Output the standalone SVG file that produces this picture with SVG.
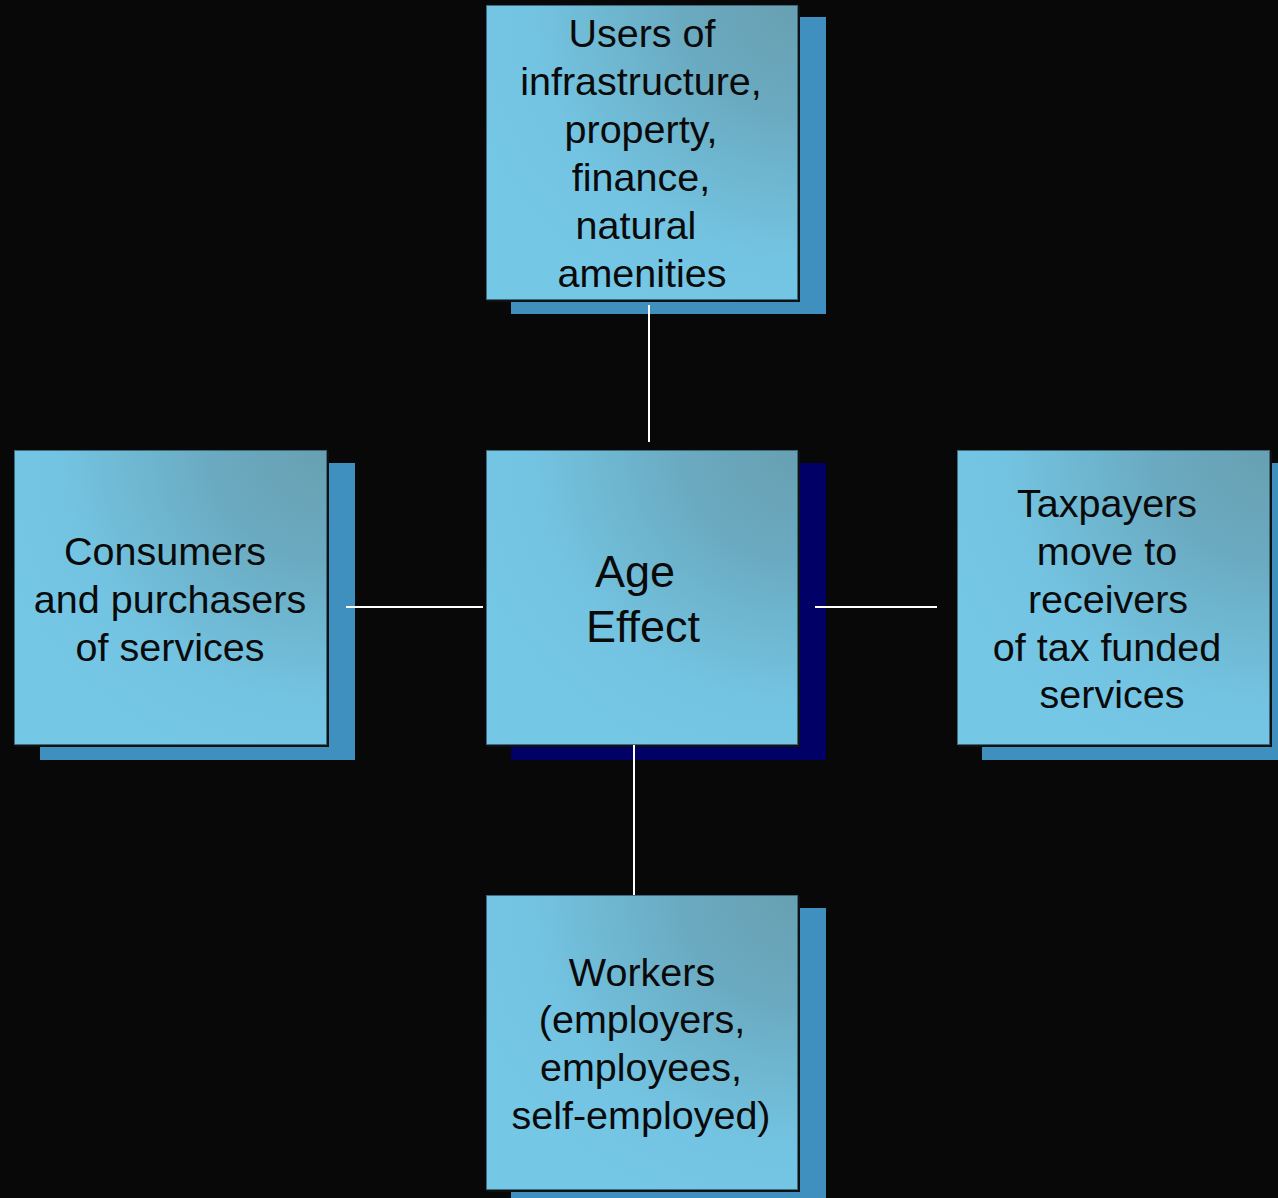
<svg xmlns="http://www.w3.org/2000/svg" width="1278" height="1198" viewBox="0 0 1278 1198">
<defs>
<radialGradient id="boxGrad" cx="1" cy="0" r="1.15" gradientUnits="objectBoundingBox">
<stop offset="0" stop-color="#68A0B2"/>
<stop offset="0.3" stop-color="#6AA9BF"/>
<stop offset="0.75" stop-color="#73C4E2"/>
<stop offset="1" stop-color="#74C7E5"/>
</radialGradient>
</defs>
<style>
.bg{fill:#080808}
.shadow{fill:#3F8FBF}
.shadow-dark{fill:#000066}
.box{fill:url(#boxGrad);stroke:#3C6A7E;stroke-width:1}
.edge{fill:none;stroke:#111111;stroke-width:2}
.conn{stroke:#FFFFFF;stroke-width:2;fill:none}
.t{font-family:"Liberation Sans",Arial,sans-serif;font-size:39.5px;fill:#0A0A0A;text-anchor:middle}
.tc{font-family:"Liberation Sans",Arial,sans-serif;font-size:45px;fill:#0A0A0A;text-anchor:middle}
</style>
<rect class="bg" x="0" y="0" width="1278" height="1198"/>

<g id="node-top">
<rect class="shadow" x="511" y="17" width="315" height="297"/>
<rect class="box" x="486.5" y="5.5" width="311" height="294"/>
<polyline class="edge" points="799,6 799,301 487,301"/>
<text class="t" x="642" y="47">Users of</text>
<text class="t" x="641" y="95">infrastructure,</text>
<text class="t" x="641" y="143">property,</text>
<text class="t" x="641" y="191">finance,</text>
<text class="t" x="636" y="239">natural</text>
<text class="t" x="642" y="287">amenities</text>
</g>

<g id="node-center">
<rect class="shadow-dark" x="511" y="463" width="315" height="297"/>
<rect class="box" x="486.5" y="450.5" width="311" height="294"/>
<polyline class="edge" points="799,451 799,746 487,746"/>
<text class="tc" x="635" y="587">Age</text>
<text class="tc" x="643" y="642">Effect</text>
</g>

<g id="node-left">
<rect class="shadow" x="40" y="463" width="315" height="297"/>
<rect class="box" x="14.5" y="450.5" width="312" height="294"/>
<polyline class="edge" points="328,451 328,746 15,746"/>
<text class="t" x="165" y="565">Consumers</text>
<text class="t" x="170" y="613">and purchasers</text>
<text class="t" x="170" y="661">of services</text>
</g>

<g id="node-right">
<rect class="shadow" x="982" y="463" width="300" height="297"/>
<rect class="box" x="957.5" y="450.5" width="312" height="294"/>
<polyline class="edge" points="1271,451 1271,746 958,746"/>
<text class="t" x="1107" y="517">Taxpayers</text>
<text class="t" x="1107" y="565">move to</text>
<text class="t" x="1108" y="613">receivers</text>
<text class="t" x="1107" y="661">of tax funded</text>
<text class="t" x="1112" y="708">services</text>
</g>

<g id="node-bottom">
<rect class="shadow" x="511" y="908" width="315" height="295"/>
<rect class="box" x="486.5" y="895.5" width="311" height="294"/>
<polyline class="edge" points="799,896 799,1191 487,1191"/>
<text class="t" x="642" y="986">Workers</text>
<text class="t" x="642" y="1033">(employers,</text>
<text class="t" x="641" y="1081">employees,</text>
<text class="t" x="641" y="1129">self-employed)</text>
</g>

<g id="connectors">
<line class="conn" x1="649" y1="305" x2="649" y2="442"/>
<line class="conn" x1="634" y1="745" x2="634" y2="895"/>
<line class="conn" x1="346" y1="607" x2="483" y2="607"/>
<line class="conn" x1="815" y1="607" x2="937" y2="607"/>
</g>
</svg>
